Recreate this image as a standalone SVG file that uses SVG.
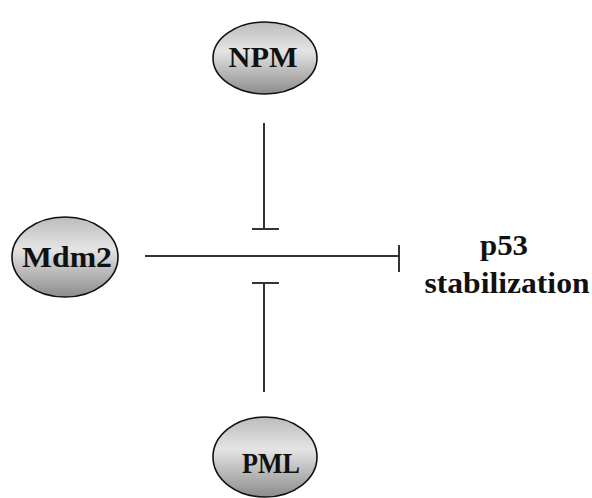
<svg xmlns="http://www.w3.org/2000/svg" width="592" height="498" viewBox="0 0 592 498">
<defs>
<linearGradient id="g" x1="0" y1="0" x2="0" y2="1">
<stop offset="0" stop-color="#bcbcbc"/>
<stop offset="0.4" stop-color="#e4e4e4"/>
<stop offset="1" stop-color="#8c8c8c"/>
</linearGradient>
<style>
.n{fill:url(#g);stroke:#111;stroke-width:1.6}
.t{font-family:"Liberation Serif","Times New Roman",serif;font-weight:bold;font-size:30px;fill:#111;text-anchor:middle}
.c{stroke:#333;stroke-width:2;fill:none}
</style>
</defs>
<rect width="592" height="498" fill="#fff"/>
<g id="NPM"><ellipse class="n" cx="265" cy="58" rx="52" ry="36"/><text class="t" x="263" y="67" textLength="69" lengthAdjust="spacingAndGlyphs">NPM</text></g>
<g id="Mdm2"><ellipse class="n" cx="65" cy="257" rx="53" ry="40"/><text class="t" x="67" y="267" textLength="90" lengthAdjust="spacingAndGlyphs">Mdm2</text></g>
<g id="PML"><ellipse class="n" cx="265" cy="457" rx="52" ry="40"/><text class="t" x="271" y="473" textLength="58" lengthAdjust="spacingAndGlyphs">PML</text></g>
<g id="p53"><text class="t" x="504" y="255" textLength="48" lengthAdjust="spacingAndGlyphs">p53</text><text class="t" x="507" y="293" textLength="165" lengthAdjust="spacingAndGlyphs">stabilization</text></g>
<g id="connectors">
<path class="c" d="M264 123V229M252 229H279"/>
<path class="c" d="M145 256H399M399 245V272"/>
<path class="c" d="M264 392V283M252 283H279"/>
</g>
</svg>
